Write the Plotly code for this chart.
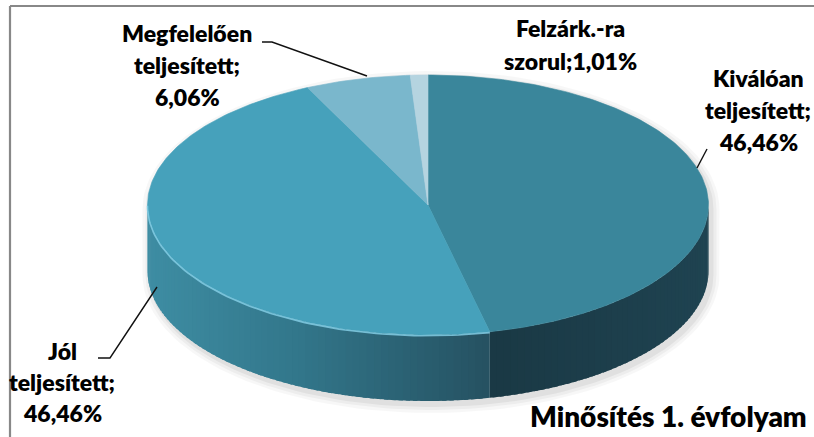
import numpy as np
import plotly.graph_objects as go

# ---------------- data ----------------
categories = ["Kiválóan teljesített", "Jól teljesített", "Megfelelően teljesített", "Felzárk.-ra szorul"]
values = [46.46, 46.46, 6.06, 1.01]
pct_labels = ["46,46%", "46,46%", "6,06%", "1,01%"]
label_lines = [
    ["Kiválóan", "teljesített;", "46,46%"],
    ["Jól", "teljesített;", "46,46%"],
    ["Megfelelően", "teljesített;", "6,06%"],
    ["Felzárk.-ra", "szorul;1,01%"],
]
title_text = "Minősítés 1. évfolyam"

# ---------------- style ----------------
W, H = 814, 437
CX, CY, RX, RY, DEPTH = 428.0, 205.0, 280.5, 130.0, 66.0
top_colors = ["#3A869B", "#46A1BB", "#7AB7CC", "#B5D4E0"]
side_stops = [
    [(500, (26, 57, 69)), (708, (31, 67, 81))],
    [(147, (62, 141, 163)), (300, (50, 118, 138)), (495, (37, 80, 96))],
    [(147, (100, 160, 180)), (708, (100, 160, 180))],
    [(147, (150, 190, 205)), (708, (150, 190, 205))],
]
label_pos = [  # center x, first line y, line step
    (758, 78, 32),
    (62, 351, 31),
    (187, 33, 32),
    (570, 28, 33),
]
leaders = [
    "M697,168 L707,149",
    "M98,358 L110,358 L157,287",
    "M262,42 L272,42 L367,76",
]
FONT = "Lato"
LABEL_SIZE = 23
TITLE_SIZE = 28
WEIGHT = 800

total = sum(values)
fracs = np.cumsum([0] + values) / total
angles = fracs * 2 * np.pi


def pt(t, dy=0.0, rx=RX, ry=RY, cx=CX, cy=CY):
    return cx + rx * np.sin(t), cy - ry * np.cos(t) + dy


def interp_color(stops, x):
    xs = [s[0] for s in stops]
    cols = np.array([s[1] for s in stops], dtype=float)
    c = [np.interp(x, xs, cols[:, k]) for k in range(3)]
    return "rgb(%d,%d,%d)" % tuple(int(round(v)) for v in c)


fig = go.Figure()

# shadow
for k, a in [(8, 0.03), (5, 0.04), (2, 0.05)]:
    tb = np.linspace(-np.pi / 2, np.pi / 2, 80)
    tf = np.linspace(np.pi / 2, 3 * np.pi / 2, 80)
    x1, y1 = pt(tb, 0, RX + k, RY + k, CX + 3, CY + 4)
    x2, y2 = pt(tf, DEPTH, RX + k, RY + k, CX + 3, CY + 4)
    fig.add_trace(go.Scatter(x=np.r_[x1, x2], y=np.r_[y1, y2], fill="toself",
                             fillcolor="rgba(0,0,0,%s)" % a, line=dict(width=0),
                             mode="lines", hoverinfo="skip", showlegend=False))

# side walls (front half only), overlapping strips for a smooth gradient
for i in range(len(values)):
    a0 = max(angles[i], np.pi / 2)
    a1 = min(angles[i + 1], 3 * np.pi / 2)
    if a0 >= a1:
        continue
    step = np.radians(1.5)
    n = max(1, int(np.ceil((a1 - a0) / step)))
    edges = np.linspace(a0, a1, n + 1)
    for j in range(n):
        e1 = min(a1, edges[j + 1] + step * 0.6)
        ts = np.linspace(edges[j], e1, 5)
        xt, yt = pt(ts)
        xb, yb = pt(ts[::-1], DEPTH)
        col = interp_color(side_stops[i], pt(0.5 * (edges[j] + edges[j + 1]))[0])
        fig.add_trace(go.Scatter(x=np.r_[xt, xb], y=np.r_[yt, yb], fill="toself",
                                 fillcolor=col, line=dict(width=0),
                                 mode="lines", hoverinfo="skip", showlegend=False))

# top faces
for i in range(len(values)):
    ts = np.linspace(angles[i], angles[i + 1], max(4, int(values[i] * 4)))
    xs, ys = pt(ts)
    fig.add_trace(go.Scatter(x=np.r_[CX, xs, CX], y=np.r_[CY, ys, CY], fill="toself",
                             fillcolor=top_colors[i], line=dict(width=0.6, color=top_colors[i]),
                             mode="lines", hoverinfo="skip", showlegend=False,
                             name=categories[i]))

# rim highlight on front edge
tr = np.linspace(angles[1], 3 * np.pi / 2, 80)
xr, yr = pt(tr)
fig.add_trace(go.Scatter(x=xr, y=yr + 0.8, mode="lines",
                         line=dict(width=1.6, color="rgba(130,205,228,0.85)"),
                         hoverinfo="skip", showlegend=False))

# labels
anns = []
for i, lines in enumerate(label_lines):
    x0, y0, stp = label_pos[i]
    for k, ln in enumerate(lines):
        anns.append(dict(x=x0, y=y0 + k * stp, text=ln, showarrow=False,
                         xref="x", yref="y", xanchor="center", yanchor="middle",
                         font=dict(family=FONT, size=LABEL_SIZE, color="#000000", weight=WEIGHT)))
anns.append(dict(x=809, y=416, text=title_text, showarrow=False,
                 xref="x", yref="y", xanchor="right", yanchor="middle",
                 font=dict(family=FONT, size=TITLE_SIZE, color="#000000", weight=WEIGHT)))

shapes = [dict(type="path", path=p, xref="x", yref="y",
               line=dict(color="#111111", width=1.4)) for p in leaders]
shapes.append(dict(type="line", x0=10, x1=10, y0=6, y1=437, xref="x", yref="y",
                   line=dict(color="#888888", width=2.2)))
shapes.append(dict(type="line", x0=10, x1=814, y0=6, y1=6, xref="x", yref="y",
                   line=dict(color="#888888", width=2.2)))

fig.update_layout(
    width=W, height=H, margin=dict(l=0, r=0, t=0, b=0),
    paper_bgcolor="white", plot_bgcolor="white",
    xaxis=dict(range=[0, W], visible=False, fixedrange=True),
    yaxis=dict(range=[H, 0], visible=False, fixedrange=True),
    annotations=anns, shapes=shapes, showlegend=False,
)
fig.write_html("out.html", config={"displayModeBar": False},
               post_script="document.body.style.margin='0';document.body.style.overflow='hidden';")
